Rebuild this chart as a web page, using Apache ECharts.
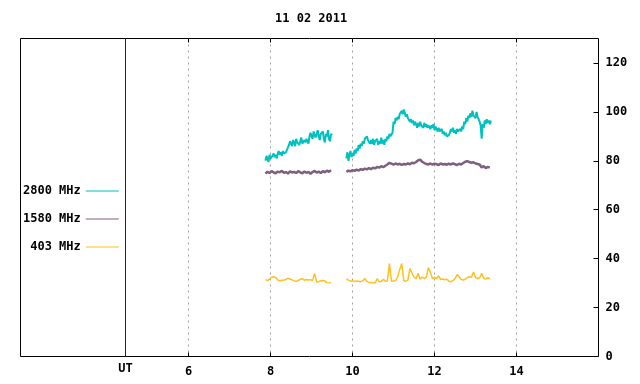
<!DOCTYPE html>
<html>
<head>
<meta charset="utf-8">
<script src="https://cdn.jsdelivr.net/npm/echarts@6/dist/echarts.min.js"></script>
<style>
  html, body { margin: 0; padding: 0; background: #fff; }
  #chart { width: 640px; height: 384px; }
</style>
</head>
<body>
<div id="chart"></div>
<script>
// time grid (UT hours) of each observed block
var seg1Start = 7.875, seg2Start = 9.85;
var fineStep = 0.025, coarseStep = 0.05;

// 2800 MHz
var f2800a = [80, 82, 81, 79.5, 82.5, 81, 80.5, 82, 83, 81.5,
  82.5, 81, 83, 84, 82.5, 83.5, 82, 84, 83, 82.5,
  83.5, 84.5, 85, 86.5, 88, 87, 86, 88.5, 87.5, 86,
  89, 87.5, 88, 86.5, 88, 89.5, 87, 86.5, 88.5, 87.5,
  89, 88, 87, 90, 91.5, 90, 89, 92, 90.5, 89.5,
  91, 92.5, 90, 88.5, 91, 90.5, 92, 89, 87.5, 91,
  90, 92.5, 89, 88, 91, 90.5];
var f2800b = [81, 83.5, 80, 82.5, 84, 81.5, 83, 82, 84.5, 83,
  85, 84, 86.5, 85, 87, 86, 88, 87, 89, 88.5,
  90, 88.5, 89, 87, 88.5, 87, 89, 86.5, 88, 87.5,
  89, 86.5, 88, 87, 89.5, 87, 88.5, 86.5, 89, 88,
  90, 89, 91, 90, 89.5, 91.5, 96, 95, 97.5, 96.5,
  98, 97, 99, 98.5, 100.5, 99, 101, 99.5, 98, 99,
  97.5, 98, 96, 97, 95.5, 96.5, 94.5, 96, 95, 93.5,
  95.5, 94, 96, 94.5, 95, 93.5, 95.5, 94, 95, 93.5,
  94.5, 95, 93, 94.5, 93.5, 95, 92.5, 94, 93, 92,
  93.5, 92, 91.5, 93, 91, 92, 90.5, 91.5, 90, 89.5,
  90.5, 91.5, 93, 92, 93.5, 91.5, 92.5, 91, 93, 92,
  91.5, 93, 92, 94, 93, 96, 95, 97.5, 96, 98.5,
  97.5, 99.5, 98, 100.5, 98.5, 99, 97.5, 100, 98, 97,
  96, 94.5, 89, 95, 93.5, 96.5, 95, 97, 95.5, 96.5,
  95, 96.5];

// 1580 MHz
var f1580a = [74.8, 75.5, 75, 75.8, 75.2, 74.9, 75.6, 75.3, 75.9, 75.1,
  75.4, 74.8, 75.7, 75.2, 75.5, 75, 75.8, 75.3, 74.9, 75.6,
  75.1, 75.5, 74.7, 75.4, 75.9, 75.2, 75.6, 75, 75.8, 75.3,
  76, 75.5, 76.2];
var f1580b = [75.5, 76, 75.7, 76.2, 75.9, 76.4, 76, 76.6, 76.3, 76.8,
  76.5, 77, 76.6, 77.2, 76.9, 77.5, 77.2, 77.8, 77.4, 78,
  78.5, 79.2, 78.8, 78.4, 78.9, 78.5, 78.8, 78.3, 78.7, 78.5,
  78.9, 78.6, 79.2, 79, 79.5, 80.2, 80.5, 79.6, 79.1, 78.7,
  78.5, 78.9, 78.4, 78.8, 78.6, 78.3, 78.9, 78.5, 78.7, 78.4,
  78.8, 78.5, 78.9, 78.6, 78.3, 78.8, 78.5, 79.1, 79.6, 79.9,
  79.5, 79.2, 79.4, 78.9, 78.7, 78.5, 77.3, 77.8, 77, 77.5,
  77.2];

// 403 MHz
var f403a = [31.4, 31.0, 31.6, 32.4, 32.6, 32.3, 31.3, 31.0, 31.2, 31.3,
  31.5, 32.0, 31.7, 31.3, 30.9, 30.8, 31.0, 31.6, 31.8, 31.2,
  31.5, 31.3, 31.4, 31.0, 34.0, 30.4, 30.6, 31.0, 31.1, 30.9,
  30.2, 30.1, 30.2];
var f403b = [31.7, 31.2, 30.8, 31.0, 30.7, 30.9, 30.8, 30.6, 30.9, 31.9,
  30.7, 30.3, 30.1, 30.2, 30.0, 31.8, 30.5, 30.7, 31.5, 30.8,
  30.9, 38.0, 30.8, 30.9, 31.0, 32.5, 35.5, 38.0, 31.0, 30.8,
  31.2, 36.0, 34.0, 32.5, 31.8, 34.0, 31.6, 32.5, 31.8, 32.4,
  36.3, 34.5, 31.8, 32.3, 31.8, 33.0, 31.5, 31.7, 31.4, 31.6,
  30.8, 30.6, 31.0, 31.8, 33.5, 32.6, 31.5, 31.3, 31.6, 32.3,
  32.6, 32.4, 34.5, 32.3, 31.8, 32.2, 34.0, 32.0, 31.7, 32.2,
  31.7];

var hourTicks = [6, 8, 10, 12, 14];
var utMark = 4.46;
var yTicks = [0, 20, 40, 60, 80, 100, 120];

function toPairs(start, step, vals) {
  return vals.map(function (v, i) { return [+(start + i * step).toFixed(3), v]; });
}
function twoBlocks(a, b, step) {
  // null splits the two observing blocks
  return toPairs(seg1Start, step, a).concat([[9.67, null]], toPairs(seg2Start, step, b));
}

var font = 'DejaVu Sans Mono';
var txt = { fontFamily: font, fontSize: 12, fontWeight: 'bold', color: '#000' };
var chart = echarts.init(document.getElementById('chart'));

chart.setOption({
  animation: false,
  title: {
    text: '11 02 2011',
    left: 270, top: 8,
    textStyle: txt
  },
  legend: {
    orient: 'vertical',
    left: 18, top: 180,
    align: 'right',
    itemGap: 16,
    itemWidth: 33, itemHeight: 1,
    icon: 'rect',
    data: ['2800 MHz', '1580 MHz', '403 MHz'],
    textStyle: Object.assign({ width: 58, align: 'right' }, txt)
  },
  grid: {
    left: 20.5, right: 41.5, top: 38.5, bottom: 27.5,
    show: true, borderColor: '#000', borderWidth: 1
  },
  xAxis: [{
    type: 'value', min: 1.9, max: 16,
    axisLine: { show: false },
    axisTick: { inside: true, length: 4, lineStyle: { color: '#000' }, customValues: hourTicks },
    axisLabel: {
      customValues: [utMark].concat(hourTicks),
      margin: 6,
      formatter: function (v) { return Math.abs(v - utMark) < 0.01 ? '{ut|UT}' : '{num|' + v + '}'; },
      rich: {
        ut: Object.assign({}, txt),
        num: Object.assign({ padding: [3, 0, 0, 0] }, txt)
      }
    },
    splitLine: { show: true, lineStyle: { color: '#a0a0a0', type: [2, 4] } }
  }, {
    type: 'value', min: 1.9, max: 16, position: 'top',
    axisLine: { show: false },
    axisTick: { inside: true, length: 4, lineStyle: { color: '#000' }, customValues: hourTicks },
    axisLabel: { show: false },
    splitLine: { show: false }
  }],
  yAxis: {
    type: 'value', position: 'right', min: 0, max: 130, interval: 20,
    axisLine: { show: false },
    axisTick: { show: true, inside: true, length: 5, lineStyle: { color: '#000' }, customValues: yTicks },
    axisLabel: Object.assign({ margin: 7, customValues: yTicks }, txt),
    splitLine: { show: false }
  },
  series: [{
    name: '2800 MHz', type: 'line', showSymbol: false, connectNulls: false,
    color: '#00c0c0', lineStyle: { width: 2 },
    data: twoBlocks(f2800a, f2800b, fineStep),
    markLine: {
      silent: true, symbol: 'none', label: { show: false },
      lineStyle: { color: '#800000', type: 'solid', width: 1 },
      data: [{ xAxis: utMark }]
    }
  }, {
    name: '1580 MHz', type: 'line', showSymbol: false, connectNulls: false,
    color: '#7f5f7f', lineStyle: { width: 2.5 },
    data: twoBlocks(f1580a, f1580b, coarseStep)
  }, {
    name: '403 MHz', type: 'line', showSymbol: false, connectNulls: false,
    color: '#ffc020', lineStyle: { width: 1.5 },
    data: twoBlocks(f403a, f403b, coarseStep)
  }]
});
</script>
</body>
</html>
